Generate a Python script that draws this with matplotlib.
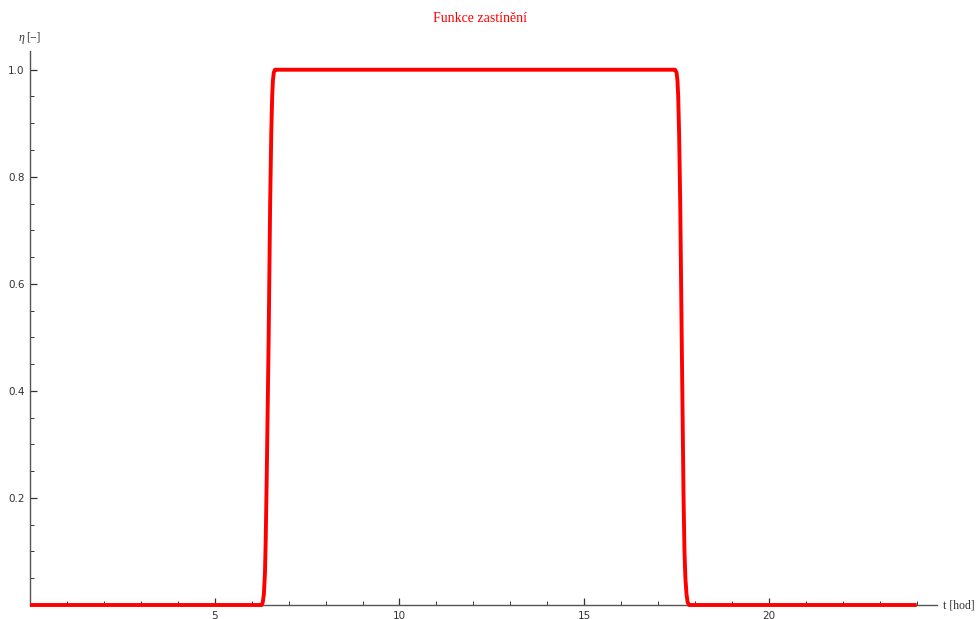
import matplotlib
matplotlib.use("Agg")
import matplotlib.pyplot as plt
from matplotlib.ticker import MultipleLocator, FixedLocator

# Shading function η(t) over one day, sampled at its breakpoints
t_hours = [0.0, 6.27, 6.30, 6.33, 6.36, 6.38, 6.41, 6.46, 6.50, 6.53, 6.555,
           6.575, 6.60, 6.63, 6.67, 6.75,
           17.40, 17.46, 17.50, 17.525, 17.545, 17.57, 17.60, 17.64, 17.69,
           17.715, 17.74, 17.77, 17.80, 17.84, 17.90, 24.0]
eta = [0.0, 0.0, 0.005, 0.02, 0.06, 0.12, 0.25, 0.50, 0.75, 0.88, 0.95,
       0.98, 0.995, 1.0, 1.0, 1.0,
       1.0, 1.0, 0.995, 0.98, 0.95, 0.88, 0.75, 0.50, 0.20,
       0.10, 0.05, 0.02, 0.005, 0.0, 0.0, 0.0]

x_major = [5, 10, 15, 20]
y_major = [0.2, 0.4, 0.6, 0.8, 1.0]
y_labels = ["0.2", "0.4", "0.6", "0.8", "1.0"]

W, H = 976, 619
fig = plt.figure(figsize=(W / 100, H / 100), dpi=100)
left, right, bottom, top = 30, 937, 605, 51
ax = fig.add_axes([left / W, (H - bottom) / H, (right - left) / W, (bottom - top) / H])

ax.plot(t_hours, eta, color="#ff0000", lw=2.8, solid_joinstyle="round",
        solid_capstyle="butt", zorder=3, clip_on=False)

ax.set_xlim(0, 24.55)
ax.set_ylim(0, 1.035)

for side in ("top", "right"):
    ax.spines[side].set_visible(False)
for side in ("left", "bottom"):
    ax.spines[side].set_color("#555555")
    ax.spines[side].set_linewidth(1.0)

ax.xaxis.set_major_locator(FixedLocator(x_major))
ax.xaxis.set_minor_locator(MultipleLocator(1))
ax.yaxis.set_major_locator(FixedLocator(y_major))
ax.yaxis.set_minor_locator(MultipleLocator(0.05))
ax.set_yticklabels(y_labels)

ax.tick_params(axis="both", which="major", direction="in", length=5, width=0.9,
               color="#333333", labelsize=7.5, labelcolor="#333333")
ax.tick_params(axis="both", which="minor", direction="in", length=3, width=0.7,
               color="#333333")
ax.tick_params(axis="x", pad=4)
ax.tick_params(axis="y", pad=4)

serif = ["Liberation Serif", "DejaVu Serif"]
fig.text(480 / W, 1 - 18 / H, "Funkce zastínění", color="#ff0000", fontsize=10,
         family=serif, ha="center", va="center")
fig.text(22 / W, 1 - 38 / H, "η", color="#333333", fontsize=8.5,
         family=serif, style="italic", ha="center", va="center")
fig.text(26 / W, 1 - 38 / H, "[−]", color="#333333", fontsize=8.5,
         family=serif, ha="left", va="center")
fig.text(943 / W, 1 - 605 / H, "t [hod]", color="#333333", fontsize=8.5,
         family=serif, ha="left", va="center")

fig.savefig("out.png", dpi=100)
